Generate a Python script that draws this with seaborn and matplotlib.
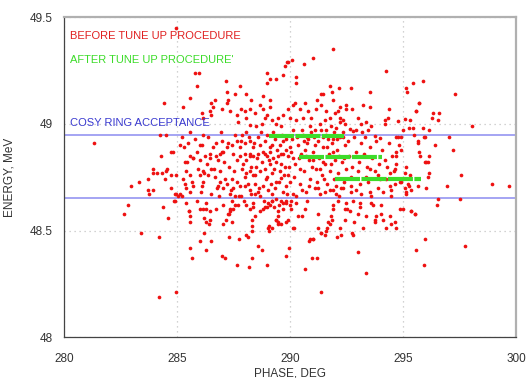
import numpy as np
import pandas as pd
import matplotlib
matplotlib.use("Agg")
import matplotlib.pyplot as plt
import seaborn as sns

# red dots "before tune up" (phase deg, energy MeV)
sparse_pts = [
    (281.32, 48.91), (282.63, 48.58), (282.82, 48.62), (282.93, 48.71), (283.31, 48.73), (283.41, 48.49),
    (283.68, 48.74), (283.74, 48.67), (283.90, 48.69), (283.92, 48.77), (284.08, 48.77), (283.93, 48.79),
    (283.70, 48.69), (284.18, 48.19), (284.93, 48.21), (284.20, 48.47), (284.23, 48.95), (284.48, 48.95),
    (284.42, 49.10), (284.80, 48.87), (284.27, 48.85), (284.52, 48.79), (284.70, 48.76), (284.95, 48.76),
    (284.37, 48.61), (284.59, 48.56), (284.86, 48.64), (284.93, 48.67), (284.93, 49.45), (284.30, 48.77),
    (284.49, 48.78), (284.45, 48.74), (284.74, 48.70), (284.89, 48.67), (285.04, 48.66), (284.89, 48.64),
    (284.74, 48.87), (285.10, 48.67), (285.20, 48.66), (285.23, 49.08), (285.20, 48.94), (285.11, 48.90),
    (285.29, 48.89), (285.57, 49.12), (285.88, 49.18), (285.77, 49.24), (285.97, 49.24), (285.40, 48.63),
    (285.50, 48.59), (285.54, 48.57), (285.55, 48.54), (285.55, 48.42), (285.67, 48.37), (286.00, 48.45),
    (286.16, 48.49), (286.25, 48.41), (286.51, 48.45), (286.96, 48.38), (287.10, 48.37), (286.20, 48.56),
    (286.44, 48.55), (286.26, 48.54), (286.70, 48.60), (287.27, 48.58), (287.32, 48.59), (287.43, 48.54),
    (287.29, 48.47), (287.72, 48.46), (287.66, 48.34), (288.04, 48.48), (288.13, 48.47), (288.18, 48.33),
    (288.31, 48.37), (288.55, 48.43), (288.73, 48.41), (288.31, 48.50), (288.31, 48.52), (288.30, 48.55),
    (288.97, 48.34), (289.80, 48.38), (289.95, 48.42), (290.12, 48.51), (290.67, 48.32), (290.95, 48.37),
    (291.19, 48.37), (291.35, 48.21), (293.02, 48.40), (293.34, 48.30), (295.92, 48.34), (295.55, 48.41),
    (295.96, 48.46), (297.72, 48.43), (298.92, 48.72), (299.68, 48.71), (298.04, 48.99), (297.31, 49.14),
    (295.86, 49.20), (295.42, 49.19), (295.15, 49.15), (294.26, 49.25), (291.89, 49.35), (291.01, 49.31),
    (290.61, 49.28), (290.07, 49.30), (289.86, 49.29), (289.76, 49.27), (287.15, 49.20), (287.77, 49.18),
    (286.66, 49.11), (287.18, 49.15), (287.54, 49.14), (288.06, 49.14), (288.28, 49.11), (288.95, 49.24),
    (289.09, 49.21), (289.39, 49.21), (289.68, 49.23), (289.90, 49.29), (288.95, 49.19), (288.80, 49.13),
    (289.09, 49.11), (290.24, 49.22), (290.24, 49.19), (291.75, 49.18), (292.15, 49.17), (292.71, 49.17),
    (291.87, 49.15), (291.89, 49.11), (291.38, 49.14), (291.45, 49.14), (291.20, 49.11), (293.52, 49.15),
    (295.14, 49.17), (295.70, 49.10), (295.55, 49.06), (296.32, 49.05), (293.22, 49.09), (293.52, 49.08),
    (294.36, 49.07),
]

upper_pts = [
    (286.51, 49.10), (286.59, 49.08), (286.44, 49.06), (286.51, 49.04), (286.07, 49.05), (286.14, 49.03),
    (286.96, 49.07), (287.18, 49.10), (287.25, 49.11), (287.32, 49.06), (287.62, 49.04), (287.84, 49.07),
    (287.69, 49.01), (288.06, 49.03), (287.99, 49.06), (288.21, 49.07), (288.43, 49.05), (288.21, 48.995),
    (288.50, 48.99), (288.65, 49.09), (288.80, 49.07), (288.87, 49.03), (288.73, 49.00), (288.95, 49.04),
    (289.09, 49.08), (289.17, 49.02), (289.46, 49.03), (289.39, 49.00), (289.68, 49.04), (289.61, 48.99),
    (289.90, 49.07), (289.98, 49.03), (290.12, 49.09), (292.75, 49.07), (292.49, 49.09), (292.19, 49.08),
    (292.12, 49.06), (292.19, 49.03), (292.34, 49.02), (292.49, 49.07), (293.00, 49.03), (293.15, 49.00),
    (293.37, 49.01), (293.59, 48.99), (294.18, 49.02), (294.33, 49.03), (294.77, 49.015), (295.07, 49.025),
    (295.29, 49.02), (294.18, 49.00), (294.99, 48.97), (295.43, 48.98), (295.95, 48.94), (296.14, 48.97),
    (294.67, 48.94), (294.77, 48.94), (294.92, 48.94), (293.30, 48.94), (293.74, 48.945), (293.96, 48.935),
    (293.44, 48.97), (292.93, 48.97), (292.78, 48.965), (292.63, 48.975), (290.20, 49.10), (290.42, 49.07),
    (290.64, 49.10), (290.79, 49.06), (290.57, 49.03), (290.27, 49.02), (290.94, 49.03), (291.15, 49.07),
    (291.38, 49.09), (291.60, 49.06), (291.53, 49.02), (291.75, 49.03), (291.97, 49.05), (290.86, 48.99),
    (291.08, 48.97), (291.31, 49.00), (291.60, 48.97), (291.82, 48.99), (292.04, 48.98), (292.19, 49.01),
    (292.41, 49.00), (290.50, 48.97), (290.12, 48.97), (290.72, 48.94), (291.45, 48.94), (291.89, 48.93),
    (292.34, 48.94),
]

right_pts = [
    (294.70, 48.87), (295.73, 48.85), (295.95, 48.82), (296.10, 48.82), (294.70, 48.81), (295.14, 48.80),
    (295.07, 48.77), (294.40, 48.77), (294.26, 48.74), (294.62, 48.72), (294.85, 48.73), (295.21, 48.72),
    (295.36, 48.69), (295.65, 48.71), (296.03, 48.70), (295.14, 48.68), (294.40, 48.71), (293.74, 48.78),
    (293.88, 48.76), (293.52, 48.79), (293.37, 48.75), (293.08, 48.72), (292.71, 48.71), (292.93, 48.69),
    (292.71, 48.68), (293.15, 48.67), (293.52, 48.68), (293.88, 48.70), (294.11, 48.68), (292.34, 48.70),
    (292.04, 48.71), (291.89, 48.69), (293.59, 48.66), (294.85, 48.60), (294.99, 48.60), (295.36, 48.59),
    (295.51, 48.58), (294.40, 48.57), (294.11, 48.55), (294.48, 48.53), (294.70, 48.51), (293.74, 48.55),
    (293.37, 48.57), (293.00, 48.58), (293.08, 48.61), (292.63, 48.59), (292.41, 48.60), (292.49, 48.63),
    (292.41, 48.55), (291.89, 48.62), (291.89, 48.60), (291.82, 48.57), (291.67, 48.54), (291.75, 48.53),
    (291.60, 48.50), (291.38, 48.49), (291.53, 48.48), (290.86, 48.46), (291.01, 48.46), (291.23, 48.51),
    (290.64, 48.60), (290.50, 48.57), (290.35, 48.57), (290.72, 48.64), (290.27, 48.63), (290.05, 48.60),
    (293.81, 48.57), (292.78, 48.48), (292.19, 48.51), (292.78, 48.64), (293.08, 48.63), (293.66, 48.62),
    (292.12, 48.64), (296.53, 48.65), (296.50, 48.62), (297.53, 48.65), (295.35, 48.59), (295.54, 48.58),
    (294.64, 48.54), (294.24, 48.51), (294.48, 48.66), (294.48, 48.69), (294.02, 48.62), (294.02, 48.58),
    (293.77, 48.54), (293.58, 48.63), (293.21, 48.51), (292.81, 48.54), (292.74, 48.49), (292.50, 48.60),
    (292.18, 48.66), (292.25, 48.48), (292.06, 48.47), (291.84, 48.55), (291.63, 48.51), (291.36, 48.49),
    (291.22, 48.58), (291.03, 48.46), (290.85, 48.45), (290.15, 48.51), (289.81, 48.54), (289.89, 48.55),
    (289.37, 48.55), (289.45, 48.53), (289.08, 48.52), (289.00, 48.51), (295.94, 48.94), (296.41, 48.90),
    (297.04, 48.94), (297.20, 48.88), (297.56, 48.76), (296.94, 48.71), (296.16, 48.85), (296.01, 48.82),
    (295.72, 48.87), (295.64, 48.91), (295.68, 48.92), (296.30, 49.03), (296.60, 49.05), (296.53, 49.02),
    (295.57, 49.06), (295.72, 49.10), (295.86, 48.98), (295.46, 48.95), (295.24, 48.98), (296.16, 48.77),
    (296.08, 48.75), (295.27, 48.71), (294.90, 48.88), (294.68, 48.85), (294.58, 48.78), (295.30, 48.76),
    (294.90, 48.73), (295.08, 48.70), (295.12, 48.67),
]

core_pts = [
    (285.77, 48.93), (285.99, 48.90), (286.36, 48.94), (286.73, 48.91), (286.96, 48.92), (287.18, 48.89),
    (287.40, 48.90), (287.62, 48.92), (287.77, 48.89), (287.99, 48.91), (288.21, 48.92), (288.36, 48.89),
    (288.65, 48.90), (288.87, 48.92), (289.09, 48.89), (289.31, 48.93), (289.54, 48.90), (289.83, 48.93),
    (289.98, 48.89), (285.85, 48.87), (286.44, 48.86), (286.96, 48.87), (287.47, 48.86), (288.21, 48.86),
    (288.87, 48.86), (289.61, 48.86), (287.91, 48.81), (288.06, 48.77), (287.99, 48.75), (288.21, 48.78),
    (288.36, 48.76), (288.50, 48.80), (288.65, 48.78), (288.87, 48.79), (288.95, 48.75), (289.09, 48.81),
    (289.17, 48.77), (289.39, 48.82), (289.54, 48.78), (289.61, 48.745), (289.76, 48.80), (289.90, 48.76),
    (289.98, 48.73), (287.99, 48.71), (288.21, 48.69), (288.43, 48.72), (288.58, 48.68), (288.80, 48.71),
    (289.02, 48.69), (289.17, 48.67), (289.31, 48.70), (289.39, 48.73), (289.68, 48.68), (289.83, 48.71),
    (290.12, 48.67), (288.28, 48.67), (288.65, 48.66), (289.17, 48.64), (289.61, 48.64), (289.68, 48.63),
    (289.83, 48.64), (290.05, 48.64), (287.77, 48.85), (287.99, 48.86), (288.21, 48.85), (288.36, 48.85),
    (288.58, 48.86), (288.80, 48.87), (288.95, 48.85), (289.09, 48.87), (289.24, 48.84), (289.46, 48.85),
    (289.68, 48.86), (289.90, 48.85), (290.05, 48.87), (285.33, 48.82), (285.55, 48.85), (285.70, 48.84),
    (286.00, 48.83), (286.22, 48.85), (286.44, 48.84), (286.73, 48.85), (286.88, 48.86), (287.03, 48.87),
    (286.14, 48.78), (286.36, 48.76), (286.51, 48.79), (286.66, 48.75), (286.88, 48.73), (286.81, 48.71),
    (287.03, 48.70), (287.18, 48.72), (287.32, 48.67), (287.47, 48.70), (287.65, 48.73), (287.77, 48.71),
    (285.26, 48.74), (285.33, 48.72), (285.40, 48.70), (285.55, 48.68), (285.70, 48.71), (285.55, 48.76),
    (286.00, 48.76), (286.14, 48.73), (286.07, 48.71), (285.52, 48.59), (286.14, 48.60), (286.29, 48.60),
    (286.44, 48.59), (286.00, 48.60), (286.38, 48.53), (287.00, 48.53), (287.15, 48.55), (287.25, 48.58),
    (287.32, 48.60), (287.47, 48.60), (287.55, 48.62), (287.40, 48.64), (287.72, 48.66), (287.84, 48.66),
    (288.06, 48.62), (288.21, 48.60), (288.44, 48.57), (288.34, 48.61), (288.65, 48.59), (288.80, 48.60),
    (288.95, 48.61), (289.02, 48.63), (289.09, 48.62), (289.21, 48.64), (289.27, 48.61), (289.46, 48.59),
    (289.46, 48.57), (289.46, 48.54), (289.68, 48.60), (289.83, 48.63), (289.98, 48.62), (289.35, 48.55),
    (289.60, 48.53), (289.06, 48.50), (289.20, 48.51),
    # dense middle, estimated where the dots overlap
    (290.08, 48.93), (290.21, 48.81), (290.33, 48.90), (290.41, 48.72), (290.47, 48.86), (290.55, 48.95),
    (290.62, 48.78), (290.69, 48.68), (290.74, 48.91), (290.81, 48.83), (290.88, 48.74), (290.93, 48.96),
    (291.02, 48.87), (291.09, 48.70), (291.14, 48.79), (291.22, 48.92), (291.27, 48.84), (291.33, 48.67),
    (291.41, 48.76), (291.47, 48.89), (291.52, 48.81), (291.58, 48.95), (291.63, 48.72), (291.71, 48.86),
    (291.77, 48.78), (291.84, 48.91), (291.92, 48.74), (291.98, 48.83), (292.07, 48.88), (292.13, 48.77),
    (292.21, 48.94), (292.28, 48.82), (292.36, 48.73), (292.43, 48.90), (290.16, 48.75), (290.26, 48.66),
    (290.37, 48.84), (290.52, 48.69), (290.66, 48.88), (290.77, 48.93), (290.98, 48.80), (291.06, 48.94),
    (291.18, 48.73), (291.37, 48.97), (291.44, 48.82), (291.56, 48.68), (291.68, 48.93), (291.80, 48.81),
    (291.95, 48.96), (292.02, 48.67), (292.17, 48.85), (292.33, 48.96), (292.47, 48.79), (290.12, 48.84),
    (290.44, 48.79), (290.59, 48.92), (290.85, 48.71), (291.11, 48.90), (291.30, 48.79), (291.50, 48.74),
    (291.74, 48.69), (291.89, 48.87), (292.09, 48.93), (292.25, 48.70), (290.30, 48.94), (290.70, 48.85),
    (291.25, 48.70), (291.62, 48.89), (292.40, 48.84), (291.00, 48.83),
    (285.38, 48.78), (285.47, 48.91), (285.63, 48.73), (285.71, 48.84), (285.92, 48.79), (286.03, 48.68),
    (286.11, 48.90), (286.19, 48.77), (286.31, 48.81), (286.48, 48.67), (286.56, 48.89), (286.62, 48.79),
    (286.79, 48.83), (286.84, 48.66), (286.93, 48.96), (287.06, 48.82), (287.11, 48.74), (287.24, 48.91),
    (287.29, 48.80), (287.38, 48.69), (287.52, 48.78), (287.57, 48.95), (287.63, 48.83), (287.70, 48.62),
    (287.81, 48.92), (287.86, 48.79), (285.58, 48.96), (285.85, 48.64), (286.28, 48.63), (286.75, 48.70),
    (287.00, 48.62), (287.44, 48.74), (285.44, 48.82), (286.15, 48.95), (286.90, 48.78), (287.55, 48.66),
    (287.88, 48.95), (287.95, 48.64), (288.02, 48.83), (288.11, 48.72), (288.17, 48.94), (288.24, 48.80),
    (288.33, 48.63), (288.39, 48.91), (288.46, 48.76), (288.53, 48.84), (288.61, 48.70), (288.69, 48.96),
    (288.76, 48.82), (288.83, 48.64), (288.91, 48.74), (288.99, 48.95), (289.06, 48.83), (289.13, 48.72),
    (289.20, 48.90), (289.27, 48.79), (289.35, 48.65), (289.42, 48.88), (289.49, 48.73), (289.57, 48.81),
    (289.64, 48.95), (289.72, 48.76), (289.79, 48.88), (289.86, 48.67), (289.94, 48.80), (289.50, 48.62),
    (288.44, 48.67), (288.90, 48.61), (289.25, 48.96), (288.05, 48.96), (289.70, 48.92), (288.57, 48.94),
    (292.55, 48.92), (292.62, 48.85), (292.74, 48.80), (292.82, 48.94), (292.90, 48.87), (293.05, 48.82),
    (293.12, 48.91), (293.26, 48.86), (293.41, 48.80), (293.55, 48.89), (293.63, 48.84), (293.79, 48.92),
    (293.91, 48.81), (294.05, 48.88), (294.21, 48.83), (294.37, 48.91), (294.52, 48.85), (294.64, 48.79),
    (294.83, 48.90), (293.18, 48.96), (292.68, 48.75), (292.98, 48.78), (293.45, 48.73), (293.97, 48.74),
    (294.30, 48.80),
]

# green "after tune up" segments: start phase, end phase, energy
after_start = [289.05, 290.40, 292.00]
after_end = [292.40, 294.05, 295.80]
after_energy = [48.945, 48.844, 48.740]

# COSY ring acceptance limits
acceptance = [48.95, 48.652]

x_ticks = [280, 285, 290, 295, 300]
y_ticks = [48, 48.5, 49, 49.5]
y_tick_labels = ["48", "48.5", "49", "49.5"]

before = pd.DataFrame(sparse_pts + upper_pts + right_pts + core_pts, columns=["phase", "energy"])

sns.set_style("white")
plt.rcParams["font.family"] = ["Liberation Sans", "DejaVu Sans"]

fig = plt.figure(figsize=(5.26, 3.78), dpi=100)
ax = fig.add_axes([0.1226, 0.1077, 0.8584, 0.8466])

for lvl in acceptance:
    ax.axhline(lvl, color="#8c8cf0", lw=1.1, zorder=1)

sns.scatterplot(data=before, x="phase", y="energy", color="#ee1111", s=7, linewidth=0, ax=ax, zorder=3)

for x0, x1, e in zip(after_start, after_end, after_energy):
    seg = pd.DataFrame({"phase": [x0, x1], "energy": [e, e]})
    sns.lineplot(data=seg, x="phase", y="energy", color="#3ddc2a", lw=3.0, ax=ax, zorder=4,
                 linestyle=(0, (6, 0.35)))

ax.set_xlim(280, 300)
ax.set_ylim(48, 49.5)
ax.set_xticks(x_ticks)
ax.set_xticklabels([str(t) for t in x_ticks])
ax.set_yticks(y_ticks)
ax.set_yticklabels(y_tick_labels)
ax.set_xticks(np.arange(281, 300, 1), minor=True)
ax.set_yticks(np.arange(48.1, 49.5, 0.1), minor=True)
ax.tick_params(axis="both", which="major", direction="out", length=5, width=0.8,
               color="#444444", labelsize=8.5, labelcolor="#333333")
ax.tick_params(axis="both", which="minor", direction="out", length=3, width=0.7, color="#444444")
ax.tick_params(axis="x", pad=6)
ax.grid(True, which="major", linestyle=(0, (1, 3)), color="#c4c4c4", lw=0.9)

for side in ["left", "bottom"]:
    ax.spines[side].set_color("#444444")
    ax.spines[side].set_linewidth(0.9)
for side in ["top", "right"]:
    ax.spines[side].set_color("#b0b0b0")
    ax.spines[side].set_linewidth(1.6)

ax.set_xlabel("PHASE, DEG", fontsize=8.5, color="#333333", labelpad=2)
ax.set_ylabel("ENERGY, MeV", fontsize=8.5, color="#333333", labelpad=10)

ax.text(280.25, 49.41, "BEFORE TUNE UP PROCEDURE", color="#e02020", fontsize=8, va="center")
ax.text(280.25, 49.30, "AFTER TUNE UP PROCEDURE'", color="#3ddc2a", fontsize=8, va="center")
ax.text(280.25, 49.005, "COSY RING ACCEPTANCE", color="#3a3ad0", fontsize=8, va="center")

fig.savefig("out.png", dpi=100)
